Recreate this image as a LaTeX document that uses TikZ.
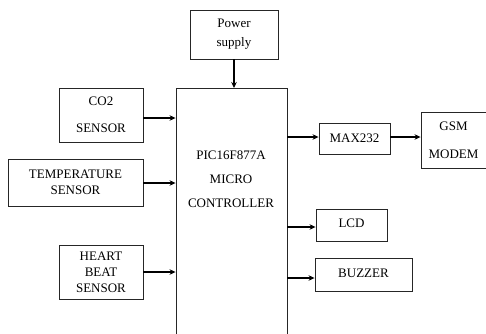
\documentclass[tikz,border=0pt]{standalone}
\usepackage{fontspec}
\setmainfont{Liberation Serif}
\usepackage{tikz}
\usetikzlibrary{arrows.meta, positioning, calc}

\begin{document}
\begin{tikzpicture}[
    x=1pt, y=-1pt,
    >={Stealth[length=6pt, width=5.5pt]},
    every node/.style={font=\fontsize{13}{16}\selectfont},
    blk/.style={rectangle, draw=black!85, line width=0.9pt, align=center, inner sep=0pt},
    link/.style={->, line width=1.6pt}
]
\useasboundingbox (0,0) rectangle (486,333);
\clip (0,0) rectangle (486,333);

% Blocks
\node[blk, minimum width=88, minimum height=49] (power) at (234,34.5) {Power\\[3pt]supply};
\node[blk, minimum width=111, minimum height=300, anchor=north] (pic) at (231.5,88) {};
\node[align=center] (pictext) at (231,179) {PIC16F877A\\[8pt]MICRO\\[8pt]CONTROLLER};
\node[blk, minimum width=84, minimum height=54] (co2) at (101,115) {CO2\\[11pt]SENSOR};
\node[blk, minimum width=135, minimum height=47] (temp) at (75.5,182.5) {TEMPERATURE\\SENSOR};
\node[blk, minimum width=84, minimum height=54] (heart) at (101,272) {HEART\\BEAT\\SENSOR};
\node[blk, minimum width=71, minimum height=31] (max) at (354.5,138.5) {MAX232};
\node[blk, minimum width=65, minimum height=56] (gsm) at (453.5,140) {GSM\\[12pt]MODEM};
\node[blk, minimum width=71, minimum height=32] (lcd) at (351.5,225) {\raisebox{3pt}{LCD}};
\node[blk, minimum width=97, minimum height=33] (buzzer) at (363.5,274.5) {\raisebox{3pt}{BUZZER}};

% Link rows
\coordinate (co2out) at (143,118);
\coordinate (tempout) at (143,183);
\coordinate (maxrow) at (354.5,137);
\coordinate (lcdrow) at (316,227);
\coordinate (buzrow) at (315,278);

% Links
\draw[link] (power) -- (power |- pic.north);
\draw[link] (co2out) -- (co2out -| pic.west);
\draw[link] (tempout) -- (tempout -| pic.west);
\draw[link] (heart.east) -- (heart.east -| pic.west);
\draw[link, line width=1.3pt] (maxrow -| pic.east) -- (maxrow -| max.west);
\draw[link, line width=1.3pt] (maxrow -| max.east) -- (maxrow -| gsm.west);
\draw[link, line width=1.3pt] (lcdrow -| pic.east) -- (lcdrow -| lcd.west);
\draw[link, line width=1.3pt] (buzrow -| pic.east) -- (buzrow -| buzzer.west);

\end{tikzpicture}
\end{document}
